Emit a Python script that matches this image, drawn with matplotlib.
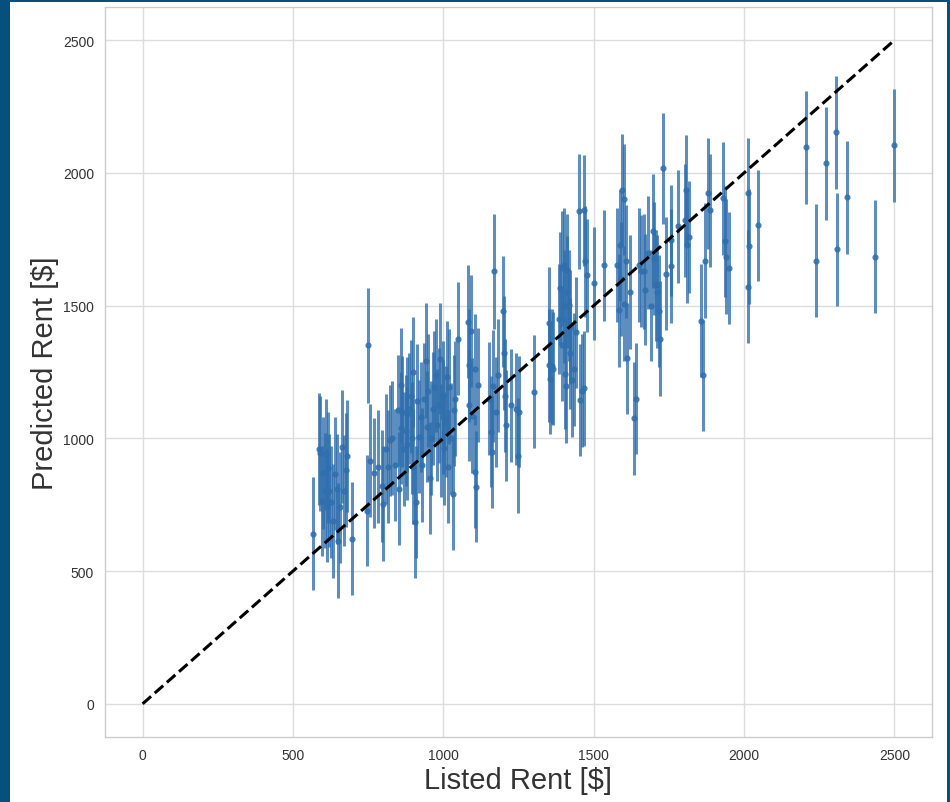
import matplotlib.pyplot as plt
from matplotlib.patches import Rectangle

# listed rent vs predicted rent, with error bars
listed = [
    566, 585, 590, 596, 600, 605, 610, 613, 618, 620, 625, 633, 640, 645, 650, 655, 663, 670, 675, 680, 697,
    745, 751, 756, 770, 784, 795, 801, 810, 815, 824, 831, 840, 848, 851, 858, 860, 864, 870, 875, 878,
    880, 885, 891, 895, 898, 900, 905, 908, 914, 918, 925, 930, 935, 942, 945, 950, 955, 960, 965, 969,
    975, 980, 985, 990, 992, 998, 1000, 1003, 1009, 1012, 1015, 1019, 1025, 1032, 1036, 1040, 1049,
    1082, 1084, 1086, 1093, 1097, 1104, 1104, 1109, 1115, 1153, 1158, 1162, 1166, 1170, 1176, 1182, 1199,
    1203, 1205, 1210, 1226, 1243, 1249, 1252, 1300,
    1350, 1352, 1355, 1360, 1366, 1385, 1387, 1394, 1395, 1400, 1402, 1405, 1407, 1410, 1411, 1417, 1420,
    1422, 1428, 1436, 1440, 1451, 1455, 1461, 1467, 1469, 1471, 1478,
    1501, 1535, 1578, 1585, 1588, 1590, 1595, 1601, 1602, 1607, 1612, 1620, 1635, 1640, 1652, 1656, 1668,
    1672, 1680, 1690, 1696, 1702, 1707, 1710, 1718, 1720, 1729, 1740, 1756, 1757,
    1780, 1802, 1806, 1811, 1818, 1857, 1863, 1869, 1880, 1886, 1930, 1936, 1940, 1950, 2012, 2014, 2017, 2048,
    2205, 2239, 2272, 2305, 2309, 2343, 2436, 2500,
]
predicted = [
    641, 960, 943, 765, 870, 803, 940, 747, 890, 803, 760, 690, 867, 810, 615, 740, 969, 803, 880, 935, 622,
    728, 1350, 916, 870, 894, 820, 754, 960, 894, 992, 1000, 900, 1105, 811, 1040, 1200, 1101, 960, 1029, 1090,
    980, 1112, 1158, 1000, 894, 1250, 686, 760, 1139, 1007, 1080, 900, 1150, 1293, 1044, 1180, 850, 1000, 1112, 1195,
    1237, 1050, 1124, 1300, 992, 1158, 1080, 962, 1063, 1230, 894, 1195, 1000, 792, 1105, 1150, 1376,
    1440, 1124, 1275, 1403, 1086, 1260, 875, 818, 1200, 1150, 1025, 950, 1199, 1629, 1100, 1237, 1478,
    1320, 1161, 1050, 1124, 1112, 935, 1101, 1176,
    1433, 1275, 1225, 1271, 1263, 1450, 1565, 1640, 1350, 1497, 1652, 1244, 1199, 1550, 1633, 1501, 1420,
    1320, 1218, 1260, 1400, 1855, 1143, 1180, 1859, 1188, 1667, 1614,
    1584, 1652, 1652, 1482, 1727, 1600, 1934, 1508, 1900, 1667, 1301, 1550, 1075, 1150, 1652, 1629, 1629,
    1560, 1700, 1500, 1780, 1678, 1576, 1553, 1478, 1376, 2017, 1620, 1746, 1648,
    1799, 1821, 1934, 1727, 1760, 1444, 1237, 1670, 1923, 1859, 1904, 1742, 1685, 1640, 1572, 1923, 1723, 1802,
    2097, 1670, 2036, 2153, 1712, 1908, 1685, 2104,
]
err = [
    213, 210, 215, 208, 212, 216, 210, 214, 209, 213, 211, 215, 212, 208, 216, 210, 213, 209, 214, 211, 212,
    210, 215, 212, 208, 214, 211, 216, 209, 213, 210, 215, 212, 208, 214, 211, 216, 209, 213, 210, 215,
    212, 208, 214, 211, 216, 209, 213, 210, 215, 212, 208, 214, 211, 216, 209, 213, 210, 215, 212, 208,
    214, 211, 216, 209, 213, 210, 215, 212, 208, 214, 211, 216, 209, 213, 210, 215, 212,
    212, 209, 214, 211, 216, 208, 213, 210, 215, 212, 209, 214, 211, 216, 208, 213, 210,
    215, 212, 209, 214, 211, 216, 208, 213,
    211, 214, 209, 216, 212, 208, 213, 215, 210, 212, 214, 209, 216, 211, 213, 208, 215,
    210, 212, 214, 209, 216, 211, 213, 208, 215, 210, 212,
    213, 210, 215, 212, 208, 214, 211, 216, 209, 213, 210, 215, 212, 208, 214, 211, 216,
    209, 213, 210, 215, 212, 208, 214, 211, 216, 209, 213, 210, 215,
    212, 214, 209, 216, 211, 213, 208, 215, 210, 212, 214, 209, 216, 211, 213, 208, 215, 210,
    213, 213, 213, 213, 213, 213, 213, 213,
]

plt.rcParams['font.family'] = ['Liberation Sans', 'DejaVu Sans']

fig = plt.figure(figsize=(9.5, 8.03), dpi=100)
fig.patch.set_facecolor('#06507d')
# white page inside the dark blue frame
page = Rectangle((10/950, 0), 937/950, 1 - 3/803, transform=fig.transFigure,
                 facecolor='white', edgecolor='none', zorder=-10)
fig.patches.append(page)

ax = fig.add_axes([105/950, 1 - 738/803, 827/950, 730/803])
ax.set_facecolor('white')

ax.errorbar(listed, predicted, yerr=err, fmt='o', markersize=3.5, color='#2f6fad',
            elinewidth=2.2, alpha=0.78, capsize=0, zorder=3)
ax.plot([0, 2500], [0, 2500], linestyle='--', color='black', linewidth=2.2, zorder=4)

ax.set_xlim(-125, 2625)
ax.set_ylim(-125, 2625)
ax.set_xticks([0, 500, 1000, 1500, 2000, 2500])
ax.set_yticks([0, 500, 1000, 1500, 2000, 2500])
ax.grid(True, color='#dddddd', linewidth=1, zorder=0)
ax.set_axisbelow(True)
for s in ax.spines.values():
    s.set_color('#cccccc')
    s.set_linewidth(1)
ax.tick_params(length=0, pad=8, labelsize=10, labelcolor='#333333')

ax.set_xlabel("Listed Rent [$]", fontsize=21, color='#333333', labelpad=3)
ax.set_ylabel("Predicted Rent [$]", fontsize=21, color='#333333', labelpad=3)

fig.savefig('out.png', dpi=100, facecolor=fig.get_facecolor())
